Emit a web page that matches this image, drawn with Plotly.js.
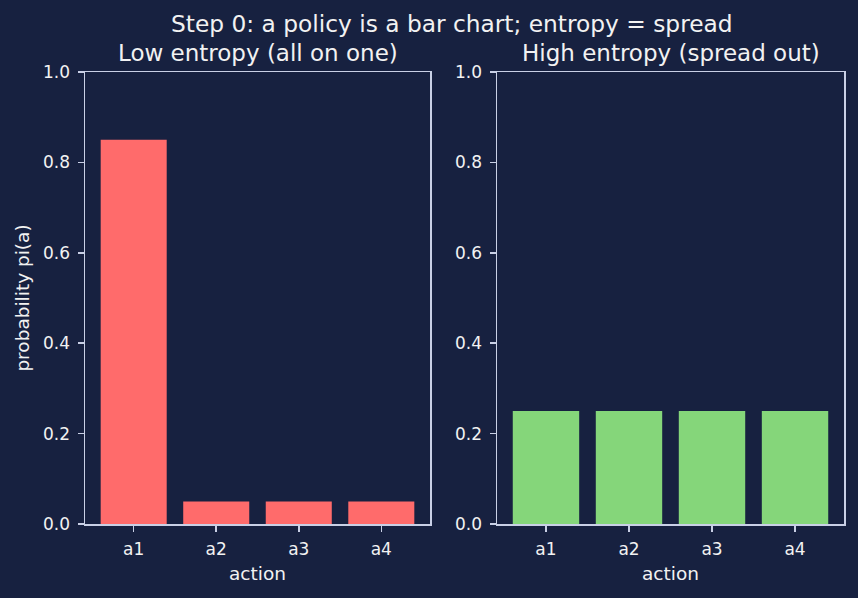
<!DOCTYPE html>
<html>
<head>
<meta charset="utf-8">
<script src="https://cdn.plot.ly/plotly-3.0.1.min.js"></script>
<style>
  html, body { margin: 0; padding: 0; background: #172140; }
  #chart { width: 858px; height: 598px; }
</style>
</head>
<body>
<div id="chart"></div>
<script>
// Actions and the two example policies
const actions = ['a1', 'a2', 'a3', 'a4'];
const lowEntropyProbs = [0.85, 0.05, 0.05, 0.05];
const highEntropyProbs = [0.25, 0.25, 0.25, 0.25];
const yTicks = [0, 0.2, 0.4, 0.6, 0.8, 1.0];

const W = 858, H = 598;
const BG = '#172140';
const FG = '#f2f2f2';
const SPINE = '#c9d0e6';
const FONT = 'DejaVu Sans, sans-serif';
const TICK_SIZE = 17;
const LABEL_SIZE = 18.5;
const TITLE_SIZE = 23;

const xIdx = actions.map((_, i) => i);

const traces = [
  {
    type: 'bar', x: xIdx, y: lowEntropyProbs, width: 0.8,
    marker: { color: '#ff6b6b', line: { width: 0 } },
    xaxis: 'x', yaxis: 'y', hoverinfo: 'x+y', showlegend: false
  },
  {
    type: 'bar', x: xIdx, y: highEntropyProbs, width: 0.8,
    marker: { color: '#85d67a', line: { width: 0 } },
    xaxis: 'x2', yaxis: 'y2', hoverinfo: 'x+y', showlegend: false
  }
];

function xAxis(domainPx) {
  return {
    domain: [domainPx[0] / W, domainPx[1] / W],
    range: [-0.59, 3.59],
    tickmode: 'array', tickvals: xIdx, ticktext: actions,
    ticks: 'outside', ticklen: 6, tickwidth: 1.5, tickcolor: SPINE,
    ticklabelstandoff: 3,
    showline: true, linecolor: SPINE, linewidth: 1.5, mirror: true,
    showgrid: false, zeroline: false,
    tickfont: { family: FONT, size: TICK_SIZE, color: FG },
    title: { text: 'action', font: { family: FONT, size: LABEL_SIZE, color: FG }, standoff: 9 }
  };
}
function yAxis(anchor) {
  return {
    domain: [1 - 524 / H, 1 - 72 / H],
    range: [0, 1],
    anchor: anchor,
    tickmode: 'array', tickvals: yTicks, ticktext: yTicks.map(v => v.toFixed(1)),
    ticks: 'outside', ticklen: 6, tickwidth: 1.5, tickcolor: SPINE,
    ticklabelstandoff: 4,
    showline: true, linecolor: SPINE, linewidth: 1.5, mirror: true,
    showgrid: false, zeroline: false,
    tickfont: { family: FONT, size: TICK_SIZE, color: FG }
  };
}

const layout = {
  width: W, height: H,
  paper_bgcolor: BG, plot_bgcolor: BG,
  margin: { l: 0, r: 0, t: 0, b: 0 },
  barmode: 'group',
  xaxis: Object.assign(xAxis([85, 430]), { anchor: 'y' }),
  yaxis: Object.assign(yAxis('x'), {
    title: { text: 'probability pi(a)', font: { family: FONT, size: LABEL_SIZE, color: FG }, standoff: 8 }
  }),
  xaxis2: Object.assign(xAxis([497, 844]), { anchor: 'y2' }),
  yaxis2: yAxis('x2'),
  annotations: [
    { text: 'Step 0: a policy is a bar chart; entropy = spread', xref: 'paper', yref: 'paper',
      x: 452 / W, y: 1 - 24 / H, xanchor: 'center', yanchor: 'middle', showarrow: false,
      font: { family: FONT, size: 23.3, color: FG } },
    { text: 'Low entropy (all on one)', xref: 'paper', yref: 'paper',
      x: 257.5 / W, y: 1 - 53 / H, xanchor: 'center', yanchor: 'middle', showarrow: false,
      font: { family: FONT, size: TITLE_SIZE, color: FG } },
    { text: 'High entropy (spread out)', xref: 'paper', yref: 'paper',
      x: 670.5 / W, y: 1 - 53 / H, xanchor: 'center', yanchor: 'middle', showarrow: false,
      font: { family: FONT, size: TITLE_SIZE, color: FG } }
  ]
};

Plotly.newPlot('chart', traces, layout, { displayModeBar: false, staticPlot: true });
</script>
</body>
</html>
